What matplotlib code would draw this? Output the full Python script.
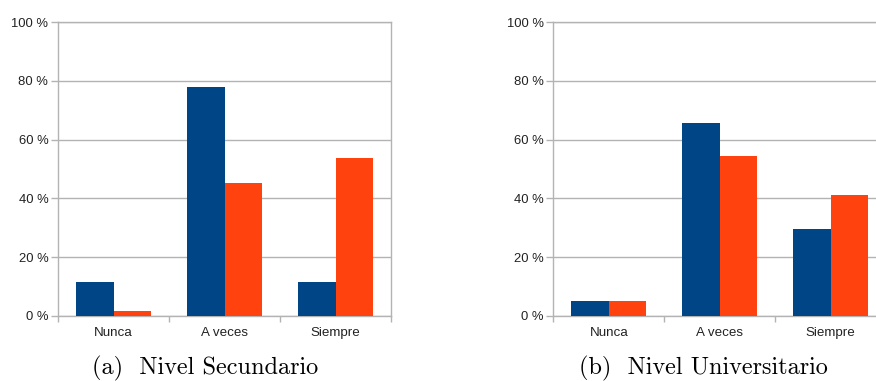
import matplotlib.pyplot as plt
import numpy as np

# ── Data (percentages) ────────────────────────────────────────────────────────
categories = ['Nunca', 'A veces', 'Siempre']

secundario_azul = [11.6, 77.9, 11.6]
secundario_rojo = [1.7, 45.2, 53.7]

universitario_azul = [5.1, 65.6, 29.6]
universitario_rojo = [5.1, 54.4, 41.2]

captions = ['(a)  Nivel Secundario', '(b)  Nivel Universitario']

# ── Style ─────────────────────────────────────────────────────────────────────
BLUE = '#004586'
ORANGE = '#ff420e'
GRID = '#b3b3b3'
TXT = '#222222'

plt.rcParams['font.family'] = ['Liberation Sans', 'DejaVu Sans']

fig = plt.figure(figsize=(8.76, 3.81), dpi=100)

ax_w = 333 / 876
ax_h = (316 - 22) / 381
ax_b = 1 - 316 / 381
axes = [fig.add_axes([58 / 876, ax_b, ax_w, ax_h]),
        fig.add_axes([553.3 / 876, ax_b, ax_w, ax_h])]

x = np.arange(len(categories))
width = 0.338

panels = [(secundario_azul, secundario_rojo),
          (universitario_azul, universitario_rojo)]

for ax, (azul, rojo) in zip(axes, panels):
    ax.bar(x - width / 2, azul, width, color=BLUE, linewidth=0, zorder=3)
    ax.bar(x + width / 2, rojo, width, color=ORANGE, linewidth=0, zorder=3)

    ax.set_xlim(-0.5, len(categories) - 0.5)
    ax.set_ylim(0, 100)
    ax.set_yticks(np.arange(0, 101, 20))
    ax.set_yticklabels([f'{v} %' for v in range(0, 101, 20)])
    ax.yaxis.grid(True, color=GRID, linewidth=1.0, zorder=0)
    ax.set_axisbelow(True)

    ax.set_xticks(x)
    ax.set_xticklabels(categories)
    ax.set_xticks(np.arange(-0.5, len(categories)), minor=True)
    ax.tick_params(axis='x', which='major', length=0, pad=8,
                   labelsize=9.6, labelcolor=TXT)
    ax.tick_params(axis='x', which='minor', length=4.5, width=1.0, color=GRID)
    ax.tick_params(axis='y', length=5, width=1.0, color=GRID, pad=2,
                   labelsize=9.4, labelcolor=TXT)

    for s in ax.spines.values():
        s.set_color(GRID)
        s.set_linewidth(1.0)

# Captions below each panel
fig.text(205 / 876, 1 - 374 / 381, captions[0], family='cmr10',
         fontsize=17.5, ha='center', va='baseline')
fig.text(703 / 876, 1 - 374 / 381, captions[1], family='cmr10',
         fontsize=17.5, ha='center', va='baseline')

plt.savefig('out.png', dpi=100)
